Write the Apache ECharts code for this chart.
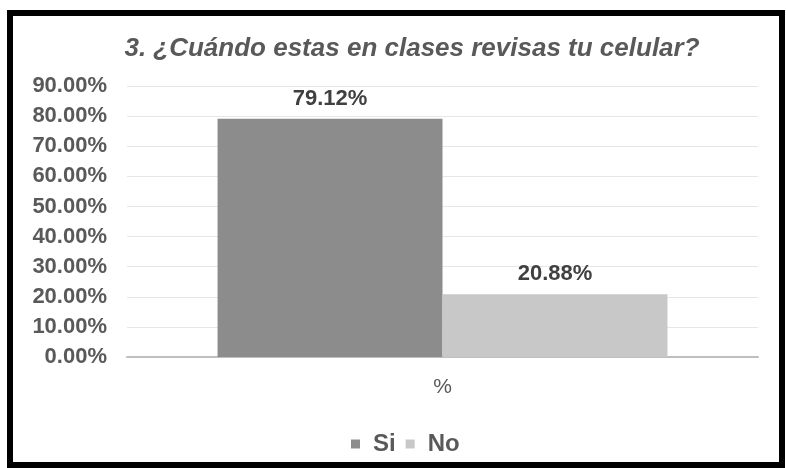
<!DOCTYPE html>
<html>
<head>
<meta charset="utf-8">
<script src="https://cdn.jsdelivr.net/npm/echarts@6/dist/echarts.min.js"></script>
<style>
  html, body { margin: 0; padding: 0; background: #fff; }
  #chart { width: 786px; height: 468px; }
</style>
</head>
<body>
<div id="chart"></div>
<script>
var categories = ['%']
var seriesNames = ['Si', 'No']
var siValues = [79.12]
var noValues = [20.88]
var yTicks = [0, 10, 20, 30, 40, 50, 60, 70, 80, 90]

var chart = echarts.init(document.getElementById('chart'))

var labelStyle = {
  show: true,
  position: 'top',
  distance: 9,
  color: '#404040',
  fontFamily: 'Liberation Sans, Arial',
  fontWeight: 'bold',
  fontSize: 22,
  formatter: function (p) { return p.value.toFixed(2) + '%' }
}

var option = {
  animation: false,
  backgroundColor: '#fff',
  color: ['#8c8c8c', '#c8c8c8'],
  title: {
    text: '3. ¿Cuándo estas en clases revisas tu celular?',
    left: 407,
    top: 31,
    textAlign: 'center',
    textStyle: {
      color: '#595959',
      fontFamily: 'Liberation Sans, Arial',
      fontStyle: 'italic',
      fontWeight: 'bold',
      fontSize: 26
    }
  },
  legend: {
    data: seriesNames,
    left: 346,
    top: 427,
    itemWidth: 9,
    itemHeight: 9,
    itemGap: 10,
    icon: 'rect',
    textStyle: {
      color: '#595959',
      fontFamily: 'Liberation Sans, Arial',
      fontWeight: 'bold',
      fontSize: 24,
      padding: [0, 0, 0, 8]
    }
  },
  grid: {
    left: 127,
    right: 28,
    top: 86,
    bottom: 111,
    containLabel: false
  },
  xAxis: {
    type: 'category',
    data: categories,
    axisLine: { lineStyle: { color: '#bfbfbf', width: 2 } },
    axisTick: { show: false },
    axisLabel: {
      margin: 20,
      color: '#595959',
      fontFamily: 'Liberation Sans, Arial',
      fontSize: 21
    }
  },
  yAxis: {
    type: 'value',
    min: yTicks[0],
    max: yTicks[yTicks.length - 1],
    interval: 10,
    axisLine: { show: false },
    axisTick: { show: false },
    splitLine: { lineStyle: { color: '#e6e6e6', width: 1 } },
    axisLabel: {
      margin: 20,
      color: '#595959',
      fontFamily: 'Liberation Sans, Arial',
      fontWeight: 'bold',
      fontSize: 22,
      formatter: function (v) { return v.toFixed(2) + '%' }
    }
  },
  series: [
    {
      name: seriesNames[0],
      type: 'bar',
      data: siValues,
      barGap: '0%',
      barCategoryGap: '28.7%',
      label: labelStyle
    },
    {
      name: seriesNames[1],
      type: 'bar',
      data: noValues,
      label: labelStyle
    }
  ],
  graphic: [
    {
      type: 'rect',
      shape: { x: 10, y: 13, width: 772, height: 452 },
      style: { fill: null, stroke: '#000', lineWidth: 6 },
      silent: true
    }
  ]
}

chart.setOption(option)
</script>
</body>
</html>
